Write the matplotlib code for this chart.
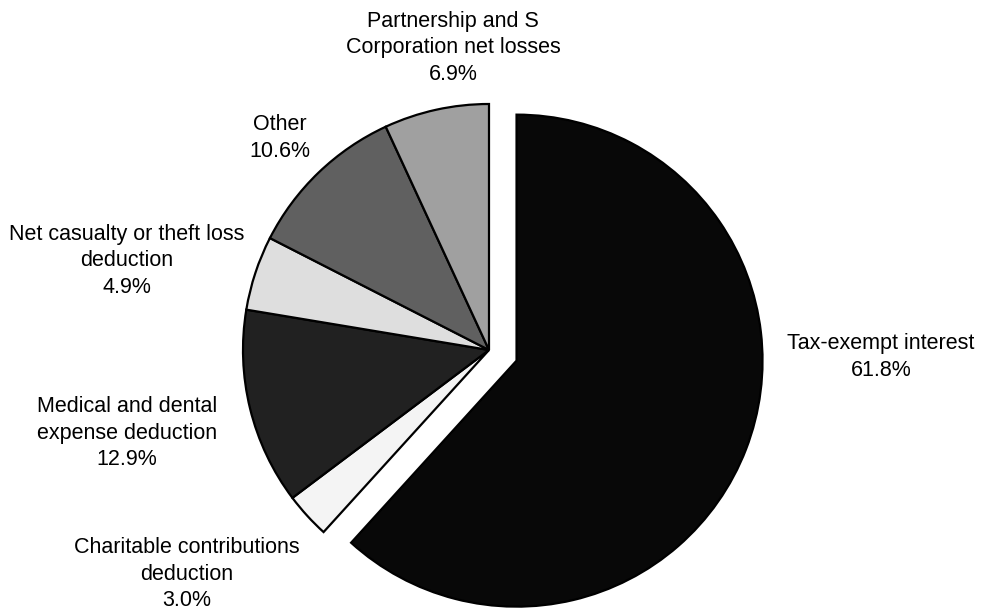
import matplotlib.pyplot as plt

plt.rcParams['font.family'] = ['Liberation Sans', 'DejaVu Sans']

labels = ['Tax-exempt interest', 'Charitable contributions\ndeduction',
          'Medical and dental\nexpense deduction', 'Net casualty or theft loss\ndeduction',
          'Other', 'Partnership and S\nCorporation net losses']
shares = [61.8, 3.0, 12.9, 4.9, 10.6, 6.9]
colors = ['#080808', '#f4f4f4', '#212121', '#dedede', '#606060', '#a0a0a0']
explode = [0.12, 0, 0, 0, 0, 0]

# label anchor points in pixels (x, y from top)
label_px = [(881, 357), (187, 574), (127, 433), (127, 261), (280, 138), (453, 48)]

W, H = 982, 612
cx, cy, R = 489, 350, 246

fig = plt.figure(figsize=(W / 100, H / 100), dpi=100)
ax = fig.add_axes([0, 0, 1, 1])

ax.pie(shares, colors=colors, explode=explode, startangle=90, counterclock=False,
       radius=1, wedgeprops=dict(edgecolor='black', linewidth=1.6))

for lab, val, (px, py) in zip(labels, shares, label_px):
    ax.text((px - cx) / R, (cy - py) / R, f'{lab}\n{val:.1f}%',
            ha='center', va='center', fontsize=15.5, linespacing=1.33)

ax.set_xlim(-cx / R, (W - cx) / R)
ax.set_ylim(-(H - cy) / R, cy / R)
ax.set_aspect('equal')
ax.axis('off')

fig.savefig('out.png', dpi=100)
